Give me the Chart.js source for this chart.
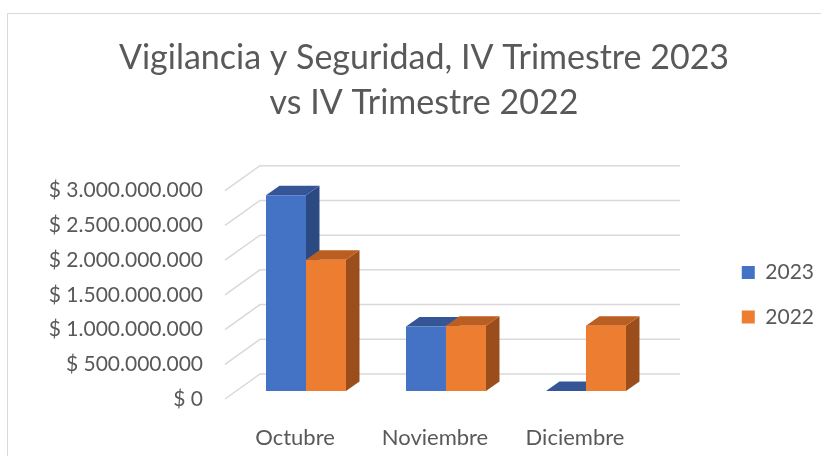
<!DOCTYPE html>
<html>
<head>
<meta charset="utf-8">
<script src="https://cdn.jsdelivr.net/npm/chart.js@4.4.1/dist/chart.umd.min.js"></script>
<style>
  html, body { margin: 0; padding: 0; background: #fff; overflow: hidden; }
  #frame { position: absolute; left: 7px; top: 13px; width: 900px; height: 500px; border: 1px solid #d9d9d9; }
  #wrap { position: absolute; left: 0; top: 0; width: 821px; height: 456px; }
</style>
</head>
<body>
<div id="frame"></div>
<div id="wrap"><canvas id="my-chart" width="821" height="456"></canvas></div>
<script>
"use strict";

// Chart data

let categories = ["Octubre", "Noviembre", "Diciembre"];
let values2023 = [2820000000, 930000000, 0];
let values2022 = [1890000000, 940000000, 940000000];
let tickValues = [0, 500000000, 1000000000, 1500000000, 2000000000, 2500000000, 3000000000];

let textColor = "#595959";
let fontName = "Lato";

// 3D look: bars sit a bit behind the front plane, the back wall further back

let barShift = { x: 11, y: -8 };
let barDepth = { x: 13.5, y: -9.5 };
let wallShift = { x: 35, y: -25 };

function formatMoney(v) {
  return "$ " + String(v).replace(/\B(?=(\d{3})+(?!\d))/g, ".");
}

function barFaces(ctx, bar, topColor, sideColor, what) {
  let p = bar.getProps(["x", "y", "base", "width"], true);
  let x0 = p.x - p.width / 2;
  let x1 = p.x + p.width / 2;
  ctx.beginPath();
  if (what === "side") {
    if (p.base - p.y < 0.5) return;
    ctx.moveTo(x1, p.y);
    ctx.lineTo(x1 + barDepth.x, p.y + barDepth.y);
    ctx.lineTo(x1 + barDepth.x, p.base + barDepth.y);
    ctx.lineTo(x1, p.base);
    ctx.fillStyle = sideColor;
  } else {
    ctx.moveTo(x0, p.y);
    ctx.lineTo(x1, p.y);
    ctx.lineTo(x1 + barDepth.x, p.y + barDepth.y);
    ctx.lineTo(x0 + barDepth.x, p.y + barDepth.y);
    ctx.fillStyle = topColor;
  }
  ctx.closePath();
  ctx.fill();
}

let depthPlugin = {
  id: "depth3d",
  beforeDatasetsDraw(chart) {
    let ctx = chart.ctx;
    let area = chart.chartArea;
    let yScale = chart.scales.y;

    // back wall grid + floor diagonals
    ctx.save();
    ctx.strokeStyle = "#d9d9d9";
    ctx.lineWidth = 1.5;
    for (let i = 0; i < tickValues.length; i++) {
      let y = yScale.getPixelForValue(tickValues[i]);
      ctx.beginPath();
      ctx.moveTo(area.left, y);
      ctx.lineTo(area.left + wallShift.x, y + wallShift.y);
      ctx.lineTo(area.right + wallShift.x, y + wallShift.y);
      ctx.stroke();
    }
    ctx.restore();

    // sides first, then tops, then the library draws the front faces
    ctx.save();
    ctx.translate(barShift.x, barShift.y);
    let faces = ["side", "top"];
    for (let f = 0; f < faces.length; f++) {
      for (let d = 0; d < chart.data.datasets.length; d++) {
        let ds = chart.data.datasets[d];
        let meta = chart.getDatasetMeta(d);
        for (let i = 0; i < meta.data.length; i++) {
          barFaces(ctx, meta.data[i], ds.topColor, ds.sideColor, faces[f]);
        }
      }
    }
  },
  afterDatasetsDraw(chart) {
    chart.ctx.restore();
  },
};

let ctx = document.getElementById("my-chart").getContext("2d");

let myChart = new Chart(ctx, {
  type: "bar",
  data: {
    labels: categories,
    datasets: [
      {
        label: "2023",
        data: values2023,
        backgroundColor: "#4472c4",
        topColor: "#355597",
        sideColor: "#2b4a82",
        clip: false,
      },
      {
        label: "2022",
        data: values2022,
        backgroundColor: "#ed7d31",
        topColor: "#ba5e22",
        sideColor: "#9b4e1c",
        clip: false,
      },
    ],
  },
  options: {
    responsive: false,
    animation: false,
    events: [],
    layout: { padding: { left: 24, right: -3, top: 0, bottom: 0 } },
    datasets: {
      bar: { categoryPercentage: 0.5714, barPercentage: 1 },
    },
    plugins: {
      title: {
        display: true,
        text: ["Vigilancia y Seguridad, IV Trimestre 2023", "vs IV Trimestre 2022"],
        color: textColor,
        font: { family: fontName, size: 34, weight: "normal", lineHeight: 1.3235 },
        padding: { top: 35.5, bottom: 65.2 },
      },
      legend: {
        position: "right",
        fullSize: false,
        labels: {
          color: textColor,
          font: { family: fontName, size: 21 },
          boxWidth: 13,
          boxHeight: 13,
          padding: 23.5,
        },
      },
      tooltip: { enabled: false },
    },
    scales: {
      x: {
        grid: { display: false, drawTicks: false },
        border: { display: false },
        ticks: { color: textColor, font: { family: fontName, size: 22 }, padding: 26 },
        afterFit: function (scale) {
          scale.height = 57;
        },
      },
      y: {
        min: 0,
        max: 3000000000,
        grid: { display: false, drawTicks: false },
        border: { display: false },
        ticks: {
          stepSize: 500000000,
          color: textColor,
          font: { family: fontName, size: 21 },
          padding: 22,
          callback: function (value) {
            return formatMoney(value);
          },
        },
        afterFit: function (scale) {
          scale.width = 201;
        },
      },
      spacer: {
        type: "linear",
        position: "right",
        grid: { display: false, drawTicks: false },
        border: { display: false },
        ticks: { display: false },
        afterFit: function (scale) {
          scale.width = 73.3;
        },
      },
    },
  },
  plugins: [depthPlugin],
});
</script>
</body>
</html>
